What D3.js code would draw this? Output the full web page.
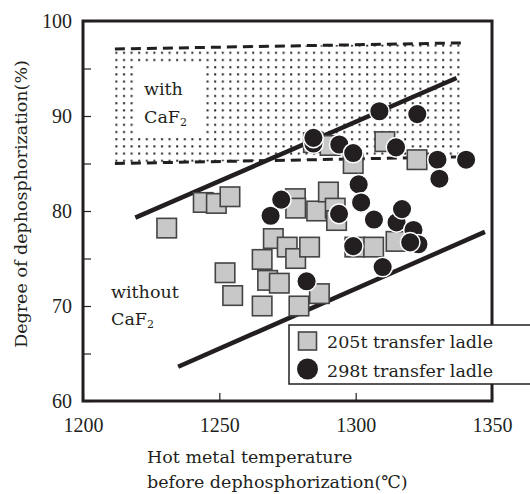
<!DOCTYPE html>
<html>
<head>
<meta charset="utf-8">
<script src="https://cdn.jsdelivr.net/npm/d3@7"></script>
<style>
  body { margin: 0; background: #fff; }
  text { font-family: "DejaVu Serif", serif; fill: #231f20; font-size: 17.5px; }
</style>
</head>
<body>
<svg id="chart" width="530" height="494"></svg>
<script>
// Data
const squareTemp = [1230.7, 1244.1, 1248.9, 1253.9, 1252.1, 1254.9, 1265.7, 1265.7, 1267.7, 1269.8,
  1272.0, 1274.9, 1277.9, 1278.0, 1278.0, 1279.2, 1283.1, 1285.7, 1286.7, 1290.0,
  1292.5, 1293.0, 1284.5, 1290.6, 1299.1, 1310.7, 1322.5, 1299.7, 1306.6, 1314.8];
const squareDeph = [78.2, 80.9, 80.8, 81.5, 73.5, 71.1, 70.0, 74.9, 72.7, 77.1,
  72.4, 76.2, 81.3, 80.3, 75.0, 70.0, 76.2, 80.0, 71.3, 82.0,
  80.3, 79.0, 87.2, 86.9, 85.0, 87.3, 85.4, 76.2, 76.2, 76.8];

const circleTemp = [1268.8, 1272.7, 1282.0, 1284.5, 1284.5, 1293.9, 1294.0, 1299.1, 1299.1, 1301.1,
  1302.0, 1306.7, 1308.7, 1309.9, 1314.8, 1315.0, 1317.0, 1321.2, 1323.0, 1320.0,
  1322.6, 1330.0, 1330.7, 1340.5];
const circleDeph = [79.5, 81.2, 72.6, 87.1, 87.7, 79.7, 87.0, 86.1, 76.3, 82.8,
  80.9, 79.1, 90.5, 74.1, 86.7, 78.8, 80.2, 78.0, 76.5, 76.7,
  90.2, 85.4, 83.4, 85.4];

// trend lines and CaF2 band (temperature, degree)
const upperLineTemp = [1219.2, 1337.0], upperLineDeph = [79.3, 94.0];
const lowerLineTemp = [1234.9, 1347.4], lowerLineDeph = [63.6, 77.8];
const bandTemp = [1211.7, 1339.5];
const bandTop = [97.05, 97.7];
const bandBottom = [85.0, 85.7];

const xTicks = [1200, 1250, 1300, 1350];
const yTicks = [60, 65, 70, 75, 80, 85, 90, 95, 100];

const margin = { top: 21, right: 38, bottom: 93, left: 83 };
const width = 530 - margin.left - margin.right;
const height = 494 - margin.top - margin.bottom;

const svg = d3.select("#chart");
const g = svg.append("g").attr("transform", `translate(${margin.left},${margin.top})`);

const x = d3.scaleLinear().domain([1200, 1350]).range([0, width]);
const y = d3.scaleLinear().domain([60, 100]).range([height, 0]);

// dot pattern for the "with CaF2" band
const defs = svg.append("defs");
const pat = defs.append("pattern")
    .attr("id", "dots")
    .attr("patternUnits", "userSpaceOnUse")
    .attr("width", 7.6).attr("height", 7.2);
pat.append("rect").attr("x", 2).attr("y", 2).attr("width", 2).attr("height", 2).attr("fill", "#231f20");

const band = bandTemp.map((t, i) => [x(t), y(bandTop[i])])
  .concat(bandTemp.map((t, i) => [x(t), y(bandBottom[i])]).reverse());
g.append("path")
    .attr("d", "M" + band.join("L") + "Z")
    .attr("fill", "url(#dots)");

// blank box behind the band label
g.append("rect")
    .attr("x", 53).attr("y", 44)
    .attr("width", 70).attr("height", 70)
    .attr("fill", "#fff");

const lineGen = d3.line();
[[bandTemp, bandTop], [bandTemp, bandBottom]].forEach(([ts, ds]) => {
  g.append("path")
      .attr("d", lineGen(ts.map((t, i) => [x(t), y(ds[i])])))
      .attr("fill", "none")
      .attr("stroke", "#231f20")
      .attr("stroke-width", 3)
      .attr("stroke-dasharray", "10,6");
});

[[upperLineTemp, upperLineDeph], [lowerLineTemp, lowerLineDeph]].forEach(([ts, ds]) => {
  g.append("path")
      .attr("d", lineGen(ts.map((t, i) => [x(t), y(ds[i])])))
      .attr("fill", "none")
      .attr("stroke", "#231f20")
      .attr("stroke-width", 4.5);
});

// markers: squares first, circles on top
const sq = 19.5;
g.selectAll(".sq")
  .data(squareTemp.map((t, i) => [t, squareDeph[i]]))
  .enter().append("rect")
    .attr("class", "sq")
    .attr("x", d => x(d[0]) - sq / 2)
    .attr("y", d => y(d[1]) - sq / 2)
    .attr("width", sq).attr("height", sq)
    .attr("fill", "#c8c8c8")
    .attr("stroke", "#444")
    .attr("stroke-width", 1.6);

g.selectAll(".ci")
  .data(circleTemp.map((t, i) => [t, circleDeph[i]]))
  .enter().append("circle")
    .attr("class", "ci")
    .attr("cx", d => x(d[0]))
    .attr("cy", d => y(d[1]))
    .attr("r", 9.8)
    .attr("fill", "#231f20")
    .attr("stroke", "#fff")
    .attr("stroke-width", 1.5);

// axes with inward ticks
const yAxis = g.append("g")
    .call(d3.axisLeft(y).tickValues(yTicks).tickSize(-8).tickPadding(11)
      .tickFormat(d => d % 10 === 0 ? d : ""));
const xAxis = g.append("g")
    .attr("transform", `translate(0,${height})`)
    .call(d3.axisBottom(x).tickValues(xTicks).tickSize(-8).tickPadding(17)
      .tickFormat(d => d));
[yAxis, xAxis].forEach(a => {
  a.select(".domain").remove();
  a.selectAll(".tick line").attr("stroke", "#231f20").attr("stroke-width", 1.2);
  a.selectAll(".tick text")
      .style("font-family", "'Liberation Serif', serif")
      .style("font-size", "20px")
      .attr("fill", "#231f20");
});

// frame
g.append("rect")
    .attr("width", width).attr("height", height)
    .attr("fill", "none")
    .attr("stroke", "#231f20")
    .attr("stroke-width", 3);

// labels inside the plot
function caf2(xPos, yPos) {
  const t = g.append("text").attr("x", xPos).attr("y", yPos);
  t.append("tspan").text("CaF");
  t.append("tspan").text("2").style("font-size", "11px").attr("dy", 3);
  return t;
}
g.append("text").attr("x", 61).attr("y", 74).text("with");
caf2(61, 102);
g.append("text").attr("x", 28).attr("y", 277).text("without");
caf2(28, 304);

// axis titles
svg.append("text")
    .attr("x", 147).attr("y", 463)
    .text("Hot metal temperature");
svg.append("text")
    .attr("x", 147).attr("y", 488)
    .text("before dephosphorization(℃)");
svg.append("text")
    .attr("transform", "translate(27,204) rotate(-90)")
    .attr("text-anchor", "middle")
    .text("Degree of dephosphorization(%)");

// legend
const legend = svg.append("g").attr("transform", "translate(289,325)");
legend.append("rect")
    .attr("width", 245).attr("height", 59)
    .attr("fill", "#fff")
    .attr("stroke", "#231f20")
    .attr("stroke-width", 1.5);
legend.append("rect")
    .attr("x", 9.5).attr("y", 7).attr("width", 18).attr("height", 18)
    .attr("fill", "#c8c8c8").attr("stroke", "#444").attr("stroke-width", 1.6);
legend.append("circle")
    .attr("cx", 18.5).attr("cy", 44).attr("r", 10.5)
    .attr("fill", "#231f20");
legend.append("text").attr("x", 38).attr("y", 23).text("205t transfer ladle");
legend.append("text").attr("x", 38).attr("y", 51.5).text("298t transfer ladle");
</script>
</body>
</html>
